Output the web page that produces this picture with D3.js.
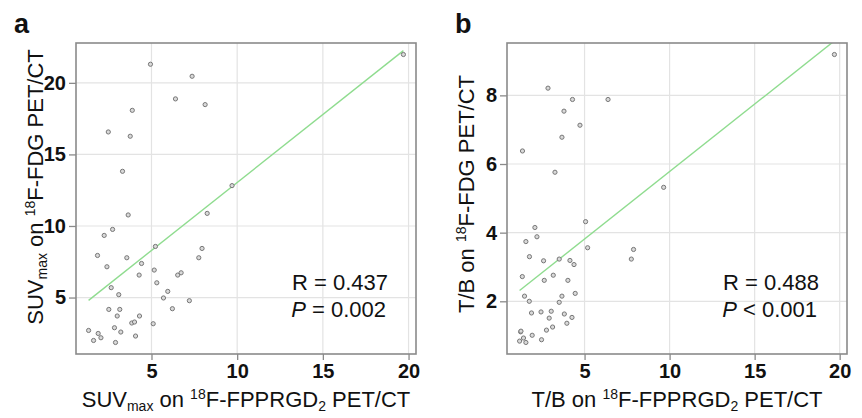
<!DOCTYPE html>
<html>
<head>
<meta charset="utf-8">
<script src="https://cdn.jsdelivr.net/npm/d3@7"></script>
<style>
  body { margin: 0; background: #fff; }
  text { font-family: "Liberation Sans", Arial, sans-serif; }
</style>
</head>
<body>
<svg id="chart" width="862" height="418"></svg>
<script>
// panel a: SUVmax, 18F-FPPRGD2 (x) vs 18F-FDG (y)
var suvRgd = [19.70, 4.94, 7.37, 6.40, 8.13, 3.88, 2.48, 3.76, 3.31, 9.70, 3.64, 8.25,
    2.73, 2.24, 1.85, 2.40, 3.56, 4.42, 5.23, 7.95, 7.76, 5.16, 4.28, 5.31, 6.53, 6.73,
    2.65, 3.09, 5.95, 5.70, 7.21, 2.51, 3.15, 6.22, 3.00, 4.30, 3.85, 4.01, 5.10, 2.84,
    1.33, 3.21, 1.89, 4.07, 2.05, 1.62, 2.90];
var suvFdg = [21.98, 21.30, 20.46, 18.88, 18.48, 18.08, 16.57, 16.27, 13.82, 12.82, 10.77, 10.88,
    9.76, 9.34, 7.94, 7.15, 7.78, 7.38, 8.57, 8.43, 7.78, 6.92, 6.57, 6.03, 6.57, 6.73,
    5.69, 5.20, 5.43, 4.97, 4.78, 4.17, 4.17, 4.22, 3.71, 3.71, 3.22, 3.29, 3.17, 2.89,
    2.70, 2.59, 2.49, 2.31, 2.19, 2.00, 1.86];

// panel b: T/B, 18F-FPPRGD2 (x) vs 18F-FDG (y)
var tbRgd = [19.69, 2.85, 4.29, 6.38, 3.79, 4.73, 3.67, 1.35, 3.26, 9.65,
    5.06, 2.08, 2.20, 1.55, 5.18, 7.88, 7.75, 1.76, 2.59, 3.51, 4.14, 4.38,
    1.34, 3.16, 2.63, 4.02, 4.45, 1.47, 3.67, 1.75, 3.51, 1.88, 2.44, 3.04,
    3.81, 2.92, 4.26, 3.96, 3.12, 2.76, 1.24, 1.26, 1.92, 1.41, 2.47, 1.18, 1.55];
var tbFdg = [9.19, 8.21, 7.88, 7.88, 7.54, 7.13, 6.78, 6.38, 5.76, 5.32,
    4.32, 4.15, 3.88, 3.74, 3.56, 3.51, 3.23, 3.30, 3.18, 3.23, 3.19, 3.07,
    2.72, 2.76, 2.61, 2.61, 2.23, 2.15, 2.15, 2.00, 1.97, 1.66, 1.69, 1.71,
    1.63, 1.51, 1.53, 1.36, 1.25, 1.16, 1.11, 1.13, 1.01, 0.93, 0.88, 0.84, 0.80];

// fitted lines as printed in the figure
var fitA = {intercept: 3.54, slope: 0.95};
var fitB = {intercept: 1.85, slope: 0.393};

var xTicksA = [5, 10, 15, 20], yTicksA = [5, 10, 15, 20];
var xTicksB = [5, 10, 15, 20], yTicksB = [2, 4, 6, 8];

var svg = d3.select('#chart');

function padded(vals) {
    var e = d3.extent(vals), p = (e[1] - e[0]) * 0.04;
    return [e[0] - p, e[1] + p];
}

// subscripts / superscripts as tspans
function richText(sel, parts) {
    parts.forEach(function(p) {
        var t = sel.append('tspan').text(p[0]);
        if (p[1] == 'sub') t.attr('font-size', 14).attr('dy', 4);
        if (p[1] == 'sup') t.attr('font-size', 14).attr('dy', -8);
        if (p[1] == 'back-sub') t.attr('dy', -4);
        if (p[1] == 'back-sup') t.attr('dy', 8);
    });
}

function drawPanel(cfg) {
    var x = d3.scaleLinear().domain(padded(cfg.xs)).range([cfg.left, cfg.right]);
    var y = d3.scaleLinear().domain(padded(cfg.ys)).range([cfg.bottom, cfg.top]);
    var g = svg.append('g');

    var clipId = 'clip-' + cfg.label;
    svg.append('clipPath').attr('id', clipId).append('rect')
        .attr('x', cfg.left).attr('y', cfg.top)
        .attr('width', cfg.right - cfg.left).attr('height', cfg.bottom - cfg.top);

    // grid
    g.selectAll('.gx').data(cfg.xTicks).enter().append('line')
        .attr('x1', d => x(d)).attr('x2', d => x(d))
        .attr('y1', cfg.top).attr('y2', cfg.bottom)
        .attr('stroke', '#e3e3e3').attr('stroke-width', 1.2);
    g.selectAll('.gy').data(cfg.yTicks).enter().append('line')
        .attr('x1', cfg.left).attr('x2', cfg.right)
        .attr('y1', d => y(d)).attr('y2', d => y(d))
        .attr('stroke', '#e3e3e3').attr('stroke-width', 1.2);

    // axes
    var xAxis = d3.axisBottom(x).tickValues(cfg.xTicks).tickSize(6).tickPadding(4).tickSizeOuter(0);
    var yAxis = d3.axisLeft(y).tickValues(cfg.yTicks).tickSize(7).tickPadding(3).tickSizeOuter(0);
    var xg = g.append('g').attr('transform', `translate(0,${cfg.bottom})`).call(xAxis);
    var yg = g.append('g').attr('transform', `translate(${cfg.left},0)`).call(yAxis);
    [xg, yg].forEach(function(a) {
        a.select('.domain').remove();
        a.selectAll('line').attr('stroke', '#8a8a8a').attr('stroke-width', 1.3);
        a.selectAll('text').attr('font-size', 20).attr('font-weight', 'bold')
            .attr('fill', '#111').attr('font-family', '"Liberation Sans", Arial, sans-serif');
    });

    // fit line
    var xe = d3.extent(cfg.xs);
    g.append('line')
        .attr('clip-path', `url(#${clipId})`)
        .attr('x1', x(xe[0])).attr('y1', y(cfg.fit.intercept + cfg.fit.slope * xe[0]))
        .attr('x2', x(xe[1])).attr('y2', y(cfg.fit.intercept + cfg.fit.slope * xe[1]))
        .attr('stroke', '#8fdc8f').attr('stroke-width', 1.4);

    // points
    g.selectAll('circle').data(cfg.xs).enter().append('circle')
        .attr('cx', d => x(d)).attr('cy', (d, i) => y(cfg.ys[i]))
        .attr('r', 2.1).attr('fill', '#d9d9d9').attr('stroke', '#777').attr('stroke-width', 1);

    // frame
    g.append('rect')
        .attr('x', cfg.left).attr('y', cfg.top)
        .attr('width', cfg.right - cfg.left).attr('height', cfg.bottom - cfg.top)
        .attr('fill', 'none').attr('stroke', '#8a8a8a').attr('stroke-width', 1.6);

    // stats
    g.append('text').attr('x', cfg.right - 28).attr('y', 290)
        .attr('text-anchor', 'end').attr('font-size', 22).attr('fill', '#111')
        .text('R = ' + cfg.r);
    var pt = g.append('text').attr('x', cfg.right - 30).attr('y', 317)
        .attr('text-anchor', 'end').attr('font-size', 22).attr('fill', '#111');
    pt.append('tspan').attr('font-style', 'italic').text('P');
    pt.append('tspan').text(cfg.p);

    // axis titles
    var xt = g.append('text').attr('x', (cfg.left + cfg.right) / 2).attr('y', 407)
        .attr('text-anchor', 'middle').attr('font-size', 22).attr('fill', '#111');
    richText(xt, cfg.xTitle);
    var yt = g.append('text')
        .attr('transform', `translate(${cfg.left - 33},${cfg.yTitleY}) rotate(-90)`)
        .attr('text-anchor', 'middle').attr('font-size', 22).attr('fill', '#111');
    richText(yt, cfg.yTitle);

    // panel letter
    g.append('text').attr('x', cfg.letterX).attr('y', 33)
        .attr('font-size', 27).attr('font-weight', 'bold').attr('fill', '#111')
        .text(cfg.label);
}

drawPanel({
    label: 'a', letterX: 14, xs: suvRgd, ys: suvFdg, fit: fitA,
    xTicks: xTicksA, yTicks: yTicksA,
    left: 76, right: 416, top: 43, bottom: 354, yTitleY: 187,
    r: '0.437', p: ' = 0.002',
    xTitle: [['SUV'], ['max', 'sub'], [' on ', 'back-sub'], ['18', 'sup'], ['F-FPPRGD', 'back-sup'], ['2', 'sub'], [' PET/CT', 'back-sub']],
    yTitle: [['SUV'], ['max', 'sub'], [' on ', 'back-sub'], ['18', 'sup'], ['F-FDG PET/CT', 'back-sup']]
});

drawPanel({
    label: 'b', letterX: 455, xs: tbRgd, ys: tbFdg, fit: fitB,
    xTicks: xTicksB, yTicks: yTicksB,
    left: 507, right: 847, top: 43, bottom: 354, yTitleY: 194,
    r: '0.488', p: ' < 0.001',
    xTitle: [['T/B on '], ['18', 'sup'], ['F-FPPRGD', 'back-sup'], ['2', 'sub'], [' PET/CT', 'back-sub']],
    yTitle: [['T/B on '], ['18', 'sup'], ['F-FDG PET/CT', 'back-sup']]
});
</script>
</body>
</html>
